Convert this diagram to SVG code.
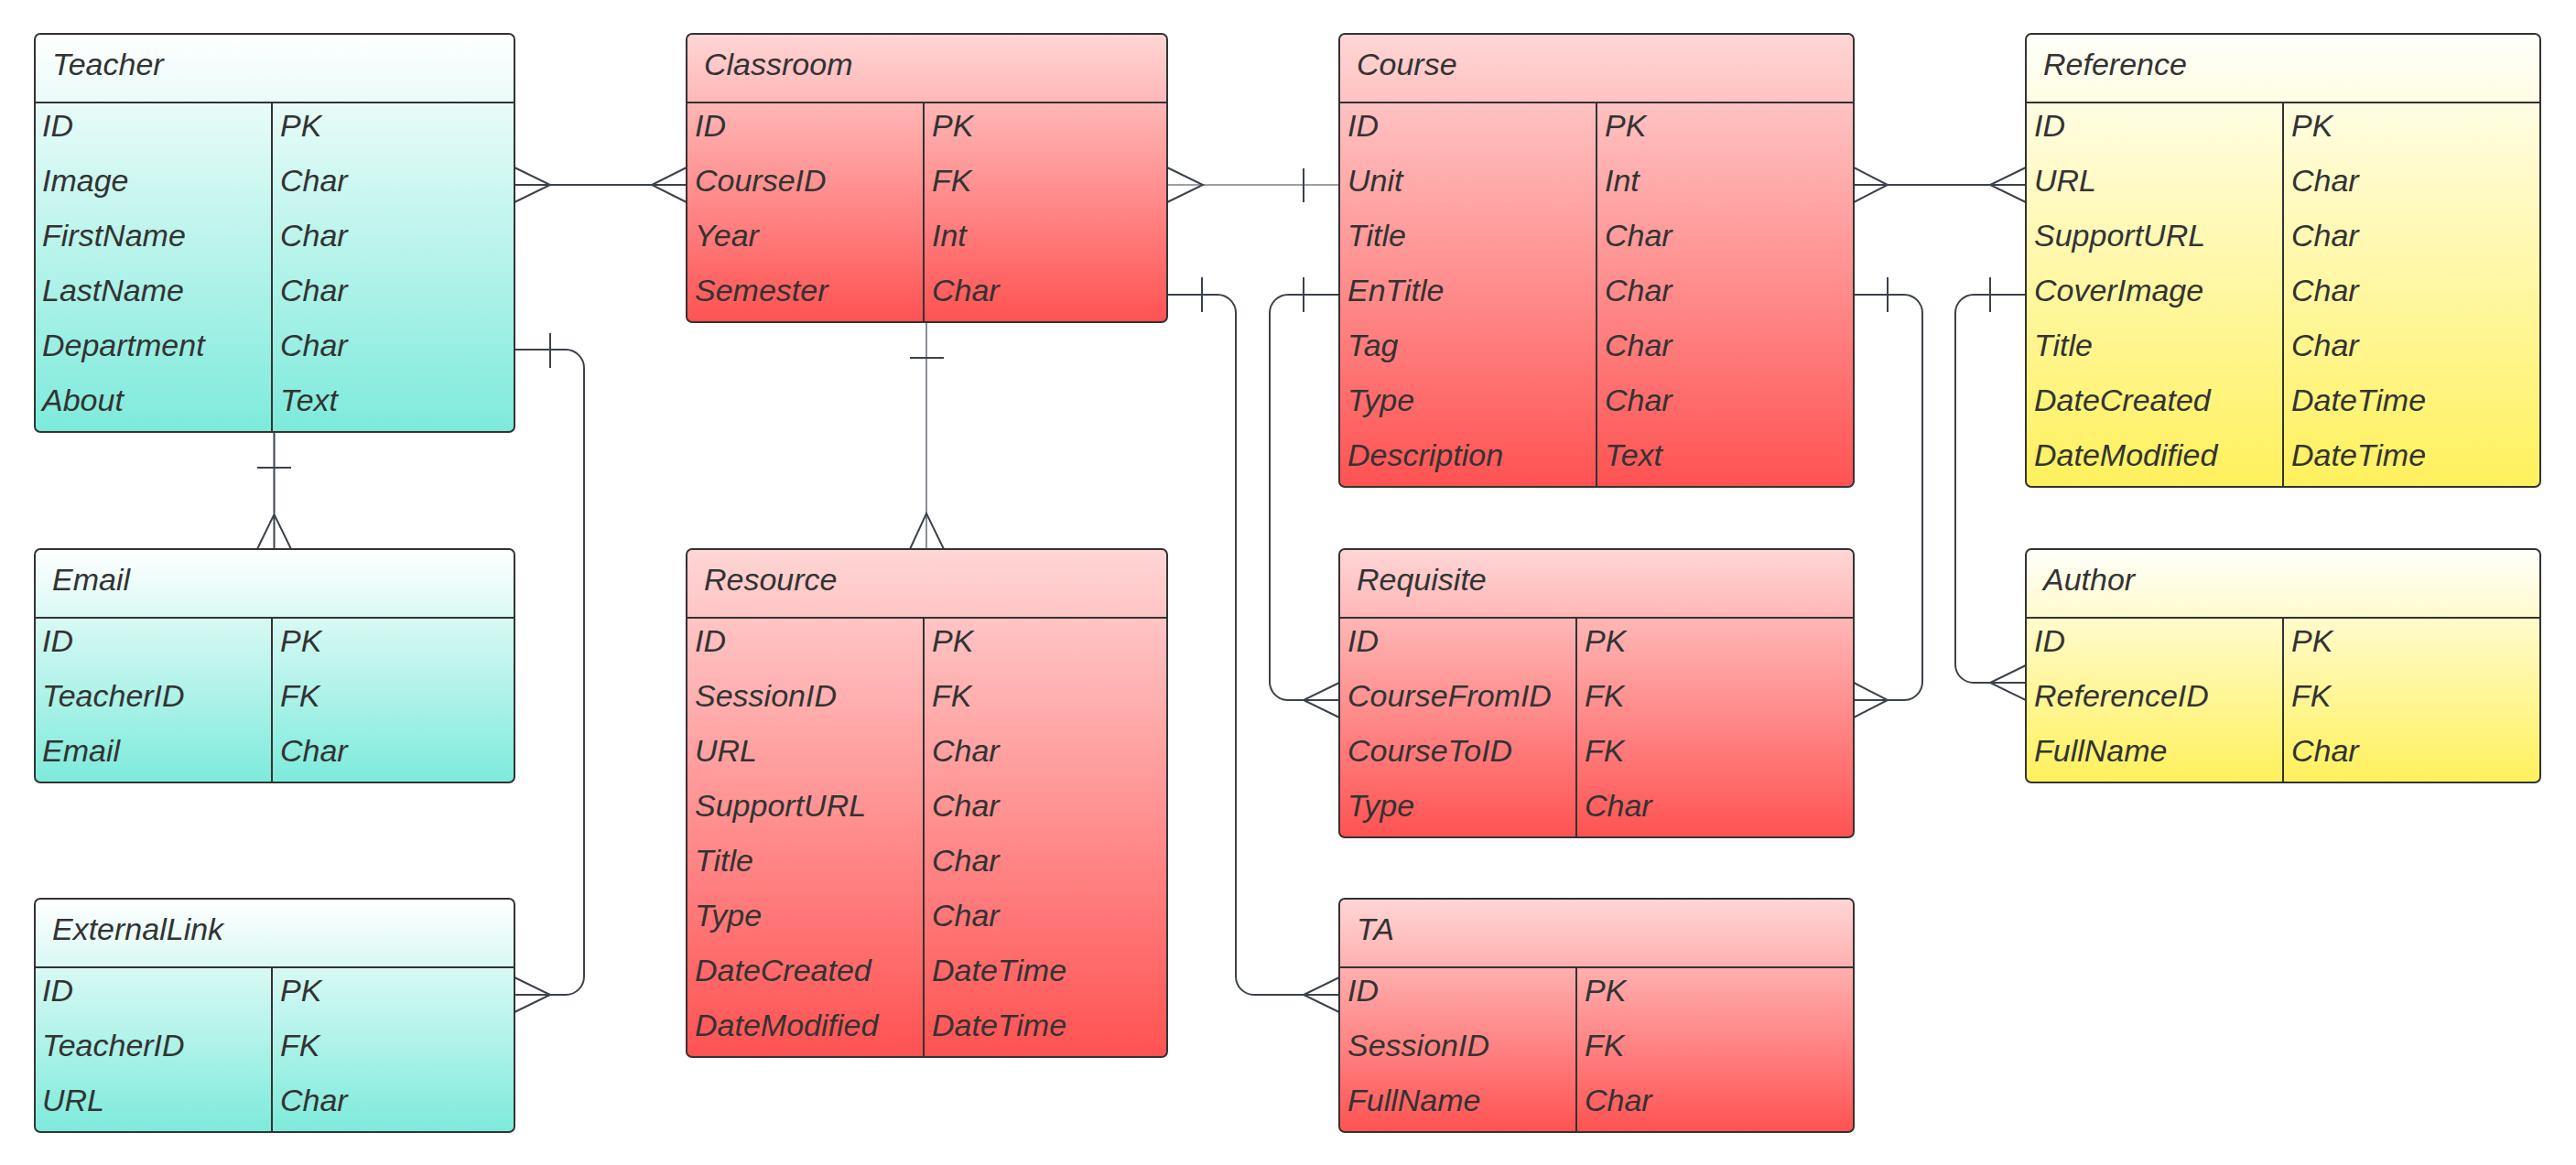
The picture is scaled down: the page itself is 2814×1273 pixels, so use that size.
<svg xmlns="http://www.w3.org/2000/svg" width="2814" height="1273" viewBox="0 0 2814 1273">
<defs>
<linearGradient id="gT" x1="0" y1="0" x2="0" y2="1"><stop offset="0" stop-color="#ffffff"/><stop offset="1" stop-color="#7deadb"/></linearGradient>
<linearGradient id="gR" x1="0" y1="0" x2="0" y2="1"><stop offset="0" stop-color="#ffd6d6"/><stop offset="1" stop-color="#ff5252"/></linearGradient>
<linearGradient id="gY" x1="0" y1="0" x2="0" y2="1"><stop offset="0" stop-color="#fffffb"/><stop offset="1" stop-color="#fff15c"/></linearGradient>
<style>
.box{stroke:#333333;stroke-width:2}
.t{fill:url(#gT)}.r{fill:url(#gR)}.y{fill:url(#gY)}
.ln{stroke:#333333;stroke-width:2;fill:none}
text{font-family:"Liberation Sans",Arial,sans-serif;font-style:italic;font-size:34px;fill:#333333}
.c{stroke:#3b424c;stroke-width:2;fill:none}
.thin{stroke:#3b424c;stroke-width:1.2;fill:none}
</style>
</defs>
<rect width="2814" height="1273" fill="#ffffff"/>

<g id="connectors">
<!-- Teacher - Classroom -->
<path class="c" d="M562 202H750M562 183L601 202L562 221M750 183L712 202L750 221"/>
<!-- Classroom - Course -->
<path class="thin" d="M1275 202H1463"/>
<path class="c" d="M1275 183L1314 202L1275 221M1424 184V221"/>
<!-- Course - Reference -->
<path class="c" d="M2025 202H2213M2025 183L2062 202L2025 221M2213 183L2174 202L2213 221"/>
<!-- Teacher - Email -->
<path class="c" d="M299.5 472V600M281 511H318M281 600L299.5 562L318 600"/>
<!-- Teacher - ExternalLink -->
<path class="c" d="M562 382H618A20 20 0 0 1 638 402V1067A20 20 0 0 1 618 1087H562M601 364V402M562 1068L601 1087L562 1106"/>
<!-- Classroom - Resource -->
<path class="thin" d="M1012 352V600"/>
<path class="c" d="M994 391H1031M994 600L1012 561L1031 600"/>
<!-- Classroom - TA -->
<path class="c" d="M1275 322H1330A20 20 0 0 1 1350 342V1067A20 20 0 0 0 1370 1087H1463M1313 303V341M1463 1068L1424 1087L1463 1106"/>
<!-- Course - Requisite (left) -->
<path class="c" d="M1463 322H1407A20 20 0 0 0 1387 342V745A20 20 0 0 0 1407 765H1463M1424 303V341M1463 746L1424 765L1463 784"/>
<!-- Course - Requisite (right) -->
<path class="c" d="M2025 322H2080A20 20 0 0 1 2100 342V745A20 20 0 0 1 2080 765H2025M2062 303V341M2025 746L2062 765L2025 784"/>
<!-- Reference - Author -->
<path class="c" d="M2213 322H2156A20 20 0 0 0 2136 342V726A20 20 0 0 0 2156 746H2213M2174 303V341M2213 727L2174 746L2213 765"/>
</g>

<g id="Teacher">
<rect class="box t" x="38" y="37" width="524" height="435" rx="6"/>
<path class="ln" d="M38 112H562M297 112V472"/>
<text x="57" y="82">Teacher</text>
<text x="46" y="149">ID</text><text x="306" y="149">PK</text>
<text x="46" y="209">Image</text><text x="306" y="209">Char</text>
<text x="46" y="269">FirstName</text><text x="306" y="269">Char</text>
<text x="46" y="329">LastName</text><text x="306" y="329">Char</text>
<text x="46" y="389">Department</text><text x="306" y="389">Char</text>
<text x="46" y="449">About</text><text x="306" y="449">Text</text>
</g>

<g id="Email">
<rect class="box t" x="38" y="600" width="524" height="255" rx="6"/>
<path class="ln" d="M38 675H562M297 675V855"/>
<text x="57" y="645">Email</text>
<text x="46" y="712">ID</text><text x="306" y="712">PK</text>
<text x="46" y="772">TeacherID</text><text x="306" y="772">FK</text>
<text x="46" y="832">Email</text><text x="306" y="832">Char</text>
</g>

<g id="ExternalLink">
<rect class="box t" x="38" y="982" width="524" height="255" rx="6"/>
<path class="ln" d="M38 1057H562M297 1057V1237"/>
<text x="57" y="1027">ExternalLink</text>
<text x="46" y="1094">ID</text><text x="306" y="1094">PK</text>
<text x="46" y="1154">TeacherID</text><text x="306" y="1154">FK</text>
<text x="46" y="1214">URL</text><text x="306" y="1214">Char</text>
</g>

<g id="Classroom">
<rect class="box r" x="750" y="37" width="525" height="315" rx="6"/>
<path class="ln" d="M750 112H1275M1009 112V352"/>
<text x="769" y="82">Classroom</text>
<text x="759" y="149">ID</text><text x="1018" y="149">PK</text>
<text x="759" y="209">CourseID</text><text x="1018" y="209">FK</text>
<text x="759" y="269">Year</text><text x="1018" y="269">Int</text>
<text x="759" y="329">Semester</text><text x="1018" y="329">Char</text>
</g>

<g id="Resource">
<rect class="box r" x="750" y="600" width="525" height="555" rx="6"/>
<path class="ln" d="M750 675H1275M1009 675V1155"/>
<text x="769" y="645">Resource</text>
<text x="759" y="712">ID</text><text x="1018" y="712">PK</text>
<text x="759" y="772">SessionID</text><text x="1018" y="772">FK</text>
<text x="759" y="832">URL</text><text x="1018" y="832">Char</text>
<text x="759" y="892">SupportURL</text><text x="1018" y="892">Char</text>
<text x="759" y="952">Title</text><text x="1018" y="952">Char</text>
<text x="759" y="1012">Type</text><text x="1018" y="1012">Char</text>
<text x="759" y="1072">DateCreated</text><text x="1018" y="1072">DateTime</text>
<text x="759" y="1132">DateModified</text><text x="1018" y="1132">DateTime</text>
</g>

<g id="Course">
<rect class="box r" x="1463" y="37" width="562" height="495" rx="6"/>
<path class="ln" d="M1463 112H2025M1744 112V532"/>
<text x="1482" y="82">Course</text>
<text x="1472" y="149">ID</text><text x="1753" y="149">PK</text>
<text x="1472" y="209">Unit</text><text x="1753" y="209">Int</text>
<text x="1472" y="269">Title</text><text x="1753" y="269">Char</text>
<text x="1472" y="329">EnTitle</text><text x="1753" y="329">Char</text>
<text x="1472" y="389">Tag</text><text x="1753" y="389">Char</text>
<text x="1472" y="449">Type</text><text x="1753" y="449">Char</text>
<text x="1472" y="509">Description</text><text x="1753" y="509">Text</text>
</g>

<g id="Requisite">
<rect class="box r" x="1463" y="600" width="562" height="315" rx="6"/>
<path class="ln" d="M1463 675H2025M1722 675V915"/>
<text x="1482" y="645">Requisite</text>
<text x="1472" y="712">ID</text><text x="1731" y="712">PK</text>
<text x="1472" y="772">CourseFromID</text><text x="1731" y="772">FK</text>
<text x="1472" y="832">CourseToID</text><text x="1731" y="832">FK</text>
<text x="1472" y="892">Type</text><text x="1731" y="892">Char</text>
</g>

<g id="TA">
<rect class="box r" x="1463" y="982" width="562" height="255" rx="6"/>
<path class="ln" d="M1463 1057H2025M1722 1057V1237"/>
<text x="1482" y="1027">TA</text>
<text x="1472" y="1094">ID</text><text x="1731" y="1094">PK</text>
<text x="1472" y="1154">SessionID</text><text x="1731" y="1154">FK</text>
<text x="1472" y="1214">FullName</text><text x="1731" y="1214">Char</text>
</g>

<g id="Reference">
<rect class="box y" x="2213" y="37" width="562" height="495" rx="6"/>
<path class="ln" d="M2213 112H2775M2494 112V532"/>
<text x="2232" y="82">Reference</text>
<text x="2222" y="149">ID</text><text x="2503" y="149">PK</text>
<text x="2222" y="209">URL</text><text x="2503" y="209">Char</text>
<text x="2222" y="269">SupportURL</text><text x="2503" y="269">Char</text>
<text x="2222" y="329">CoverImage</text><text x="2503" y="329">Char</text>
<text x="2222" y="389">Title</text><text x="2503" y="389">Char</text>
<text x="2222" y="449">DateCreated</text><text x="2503" y="449">DateTime</text>
<text x="2222" y="509">DateModified</text><text x="2503" y="509">DateTime</text>
</g>

<g id="Author">
<rect class="box y" x="2213" y="600" width="562" height="255" rx="6"/>
<path class="ln" d="M2213 675H2775M2494 675V855"/>
<text x="2232" y="645">Author</text>
<text x="2222" y="712">ID</text><text x="2503" y="712">PK</text>
<text x="2222" y="772">ReferenceID</text><text x="2503" y="772">FK</text>
<text x="2222" y="832">FullName</text><text x="2503" y="832">Char</text>
</g>
</svg>
